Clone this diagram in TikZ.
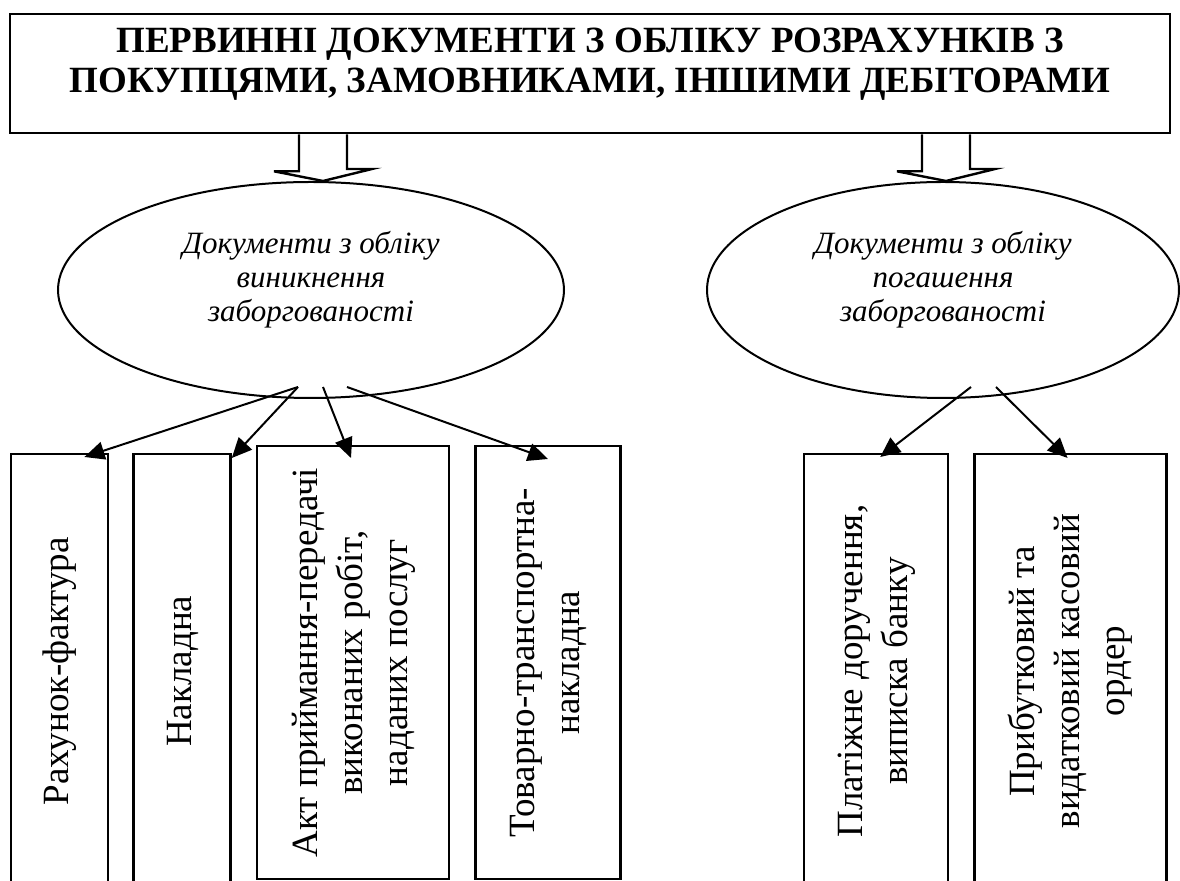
\documentclass[tikz,border=0pt]{standalone}
\usepackage{fontspec}
\setmainfont{Liberation Serif}
\usetikzlibrary{positioning, shapes.geometric, arrows.meta, calc}
\tikzset{
    every edge/.style={ % Sets the properties for each link
        draw,
        -{Triangle[length=10pt,width=9pt]},
        line width=1pt
    }
}
\newcommand{\vtext}[1]{\rotatebox{90}{\begin{tabular}{@{}c@{}}#1\end{tabular}}}

\begin{document}
\begin{tikzpicture}[x=0.5pt,y=-0.5pt]
        \tikzset{
            headbox/.style={draw,line width=1.3pt,inner sep=0pt,align=center,
                minimum width=580pt,minimum height=59.5pt,text depth=12.75pt,
                font=\bfseries\fontsize{18.5}{20}\selectfont},
            oval/.style={ellipse,draw,line width=1pt,inner sep=0pt,align=center,
                minimum height=108pt,text depth=13.9pt,
                font=\itshape\fontsize{15.5}{17}\selectfont},
            doc/.style={draw,line width=1.2pt,inner sep=0pt,anchor=north west,
                minimum height=217pt,font=\fontsize{18.5}{22.5}\selectfont},
            %
            hollow/.style={line width=1.2pt,line join=miter},
        }
        \useasboundingbox (0,0) rectangle (1180,881);
        \clip (0,0) rectangle (1180,881);

        \node[headbox] (title) at (590,73.5)
            {ПЕРВИННІ ДОКУМЕНТИ З ОБЛІКУ РОЗРАХУНКІВ З\\ПОКУПЦЯМИ, ЗАМОВНИКАМИ, ІНШИМИ ДЕБІТОРАМИ};

        \node[oval,minimum width=253pt] (rise) at (311,290) {Документи з обліку\\виникнення\\заборгованості};
        \node[oval,minimum width=236pt] (repay) at (943,290) {Документи з обліку\\погашення\\заборгованості};

        % documents of the debt arising
        \node[doc,minimum width=48.5pt] (invoice) at (10,453) {\vtext{Рахунок-фактура}};
        \node[doc,minimum width=48.5pt,right=11.5pt of invoice.north east,anchor=north west] (waybill) {\vtext{Накладна}};
        \node[doc,minimum width=96pt,minimum height=216.5pt,right=12pt of waybill.north east,anchor=north west,yshift=4pt] (act)
            {\vtext{Акт приймання-передачі\\виконаних робіт,\\наданих послуг}};
        \node[doc,minimum width=72.5pt,minimum height=216.5pt,right=12pt of act.north east,anchor=north west] (ttn)
            {\vtext{Товарно-транспортна-\\накладна}};

        % documents of the debt repayment
        \node[doc,minimum width=72pt] (payord) at (803,453) {\vtext{Платіжне доручення,\\виписка банку}};
        \node[doc,minimum width=96pt,right=12pt of payord.north east,anchor=north west] (cash)
            {\vtext{Прибутковий та\\видатковий касовий\\ордер}};

        % wide arrows from the title
        \coordinate (tipA) at ($(rise.north)+(12,0)$);
        \coordinate (tipB) at ($(repay.north)+(3,0)$);
        \draw[hollow] ($(tipA |- title.south)+(-24,0)$) -- ++(0,37) -- ++(-25,0) -- (tipA)
            -- ++(49,-12) -- ++(-25,0) -- ($(tipA |- title.south)+(24,0)$);
        \draw[hollow] ($(tipB |- title.south)+(-24,0)$) -- ++(0,37) -- ++(-25,0) -- (tipB)
            -- ++(49,-12) -- ++(-25,0) -- ($(tipB |- title.south)+(24,0)$);

        \path ($(rise.south)+(-13,-12)$) edge ($(invoice.north east)+(-25,4)$)
              ($(rise.south)+(-13,-12)$) edge ($(waybill.north east)+(0,5)$)
              ($(rise.south)+(12,-12)$) edge ($(act.north)+(-2,13)$)
              ($(rise.south)+(36,-12)$) edge ($(ttn.north)+(0,14)$);
        \path ($(repay.south)+(28,-12)$) edge ($(payord.north)+(4,4)$)
              ($(repay.south)+(53,-12)$) edge ($(cash.north)+(-3,5)$);
    \end{tikzpicture}
\end{document}
